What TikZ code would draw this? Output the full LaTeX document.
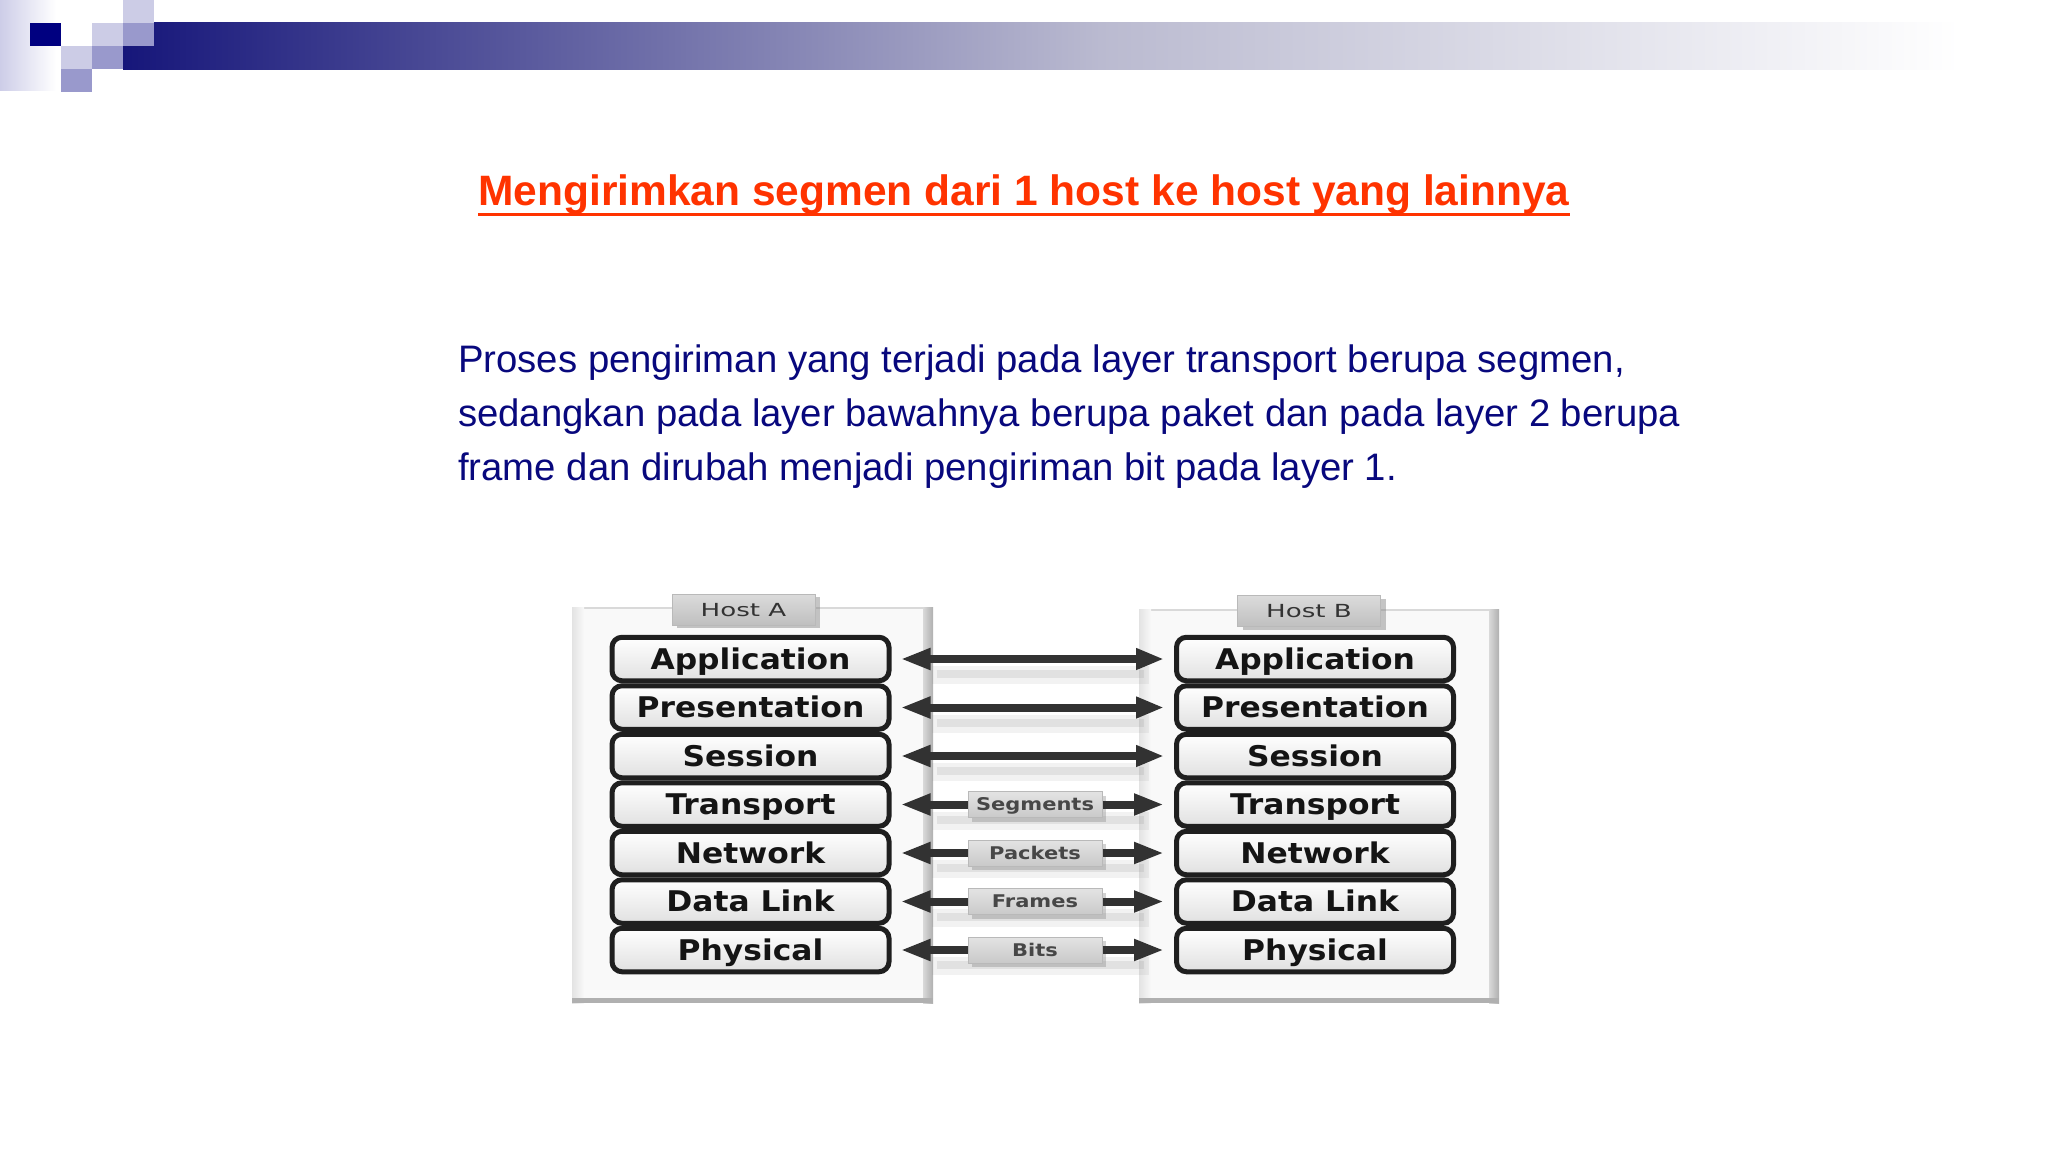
\documentclass[tikz,border=0pt]{standalone}
\usepackage{fontspec}
\setmainfont{Liberation Sans}
\newfontfamily\layerfont[FakeStretch=1.1]{DejaVu Sans}
\newfontfamily\lblfont[FakeStretch=1.2]{DejaVu Sans}
\newfontfamily\tabfont[FakeStretch=1.45]{DejaVu Sans}
\usetikzlibrary{arrows.meta,shadows}
\definecolor{navysq}{RGB}{0,0,128}
\definecolor{barnavy}{RGB}{22,22,122}
\definecolor{barmid}{RGB}{186,186,208}
\definecolor{lightsq}{RGB}{204,204,230}
\definecolor{medsq}{RGB}{153,153,204}
\definecolor{lavfade}{RGB}{205,205,232}
\definecolor{titlered}{RGB}{255,51,0}
\definecolor{bodynavy}{RGB}{8,8,125}
\definecolor{shaftgray}{RGB}{50,50,50}
\tikzset{
  bodytext/.style={anchor=base west, inner sep=0pt, text=bodynavy, font=\fontsize{38.3}{46}\selectfont},
  panel/.style={fill=gray!5, draw=gray!30, line width=2pt, inner sep=0pt},
  tabbox/.style={top color=gray!28, bottom color=gray!50, draw=gray!55, line width=1pt,
     minimum width=143pt, minimum height=31pt, inner sep=0pt, text height=13pt, text depth=0pt,
     drop shadow={opacity=0.45, shadow xshift=5pt, shadow yshift=-3pt},
     font=\tabfont\fontsize{18}{18}\selectfont, text=black!80},
  layerbox/.style={draw=black!88, line width=5pt, rounded corners=10pt,
     top color=white, middle color=white, bottom color=gray!24,
     minimum width=277pt, minimum height=43.5pt, inner sep=0pt, text height=20.8pt, text depth=0pt,
     font=\layerfont\bfseries\fontsize{28.5}{28.5}\selectfont, text=black!92},
  lblbox/.style={top color=gray!22, bottom color=gray!42, draw=gray!55, line width=1pt,
     minimum width=134pt, minimum height=26pt, inner sep=0pt, text height=12.8pt, text depth=0pt,
     drop shadow={opacity=0.35, shadow xshift=4pt, shadow yshift=-4pt},
     font=\lblfont\bfseries\fontsize{17.5}{17.5}\selectfont, text=black!72},
  shaft/.style={draw=shaftgray, line width=8pt},
  tipL/.style={-{Triangle[length=30pt,width=20pt]}},
  tipBoth/.style={{Triangle[length=30pt,width=20pt]}-{Triangle[length=28pt,width=20pt]}},
  arrshadowA/.style={draw=gray, opacity=0.10, line width=18pt},
  arrshadowB/.style={draw=gray, opacity=0.14, line width=8pt}
}
\begin{document}
\begin{tikzpicture}[x=1pt,y=-1pt]
\useasboundingbox (0,0) rectangle (2048,1152);
\fill[white] (0,0) rectangle (2048,1152);

% --- top decoration ---
\shade[left color=lavfade, right color=white] (0,0) rectangle (56,90);
\shade[left color=barnavy, right color=barmid] (123,22) rectangle (1100,69);
\shade[left color=barmid, right color=white] (1099,22) rectangle (1960,69);
\fill[navysq] (30,23) rectangle (61,46);
\fill[lightsq] (61,46) rectangle (92,69);
\fill[medsq] (61,69) rectangle (92,92);
\fill[lightsq] (92,23) rectangle (123,46);
\fill[medsq] (92,46) rectangle (123,69);
\fill[lightsq] (123,0) rectangle (154,23);
\fill[medsq] (123,23) rectangle (154,46);

% --- title ---
\node[anchor=base, inner sep=0pt, text=titlered, font=\fontsize{42.5}{50}\selectfont\bfseries]
  (title) at (1024,205) {Mengirimkan segmen dari 1 host ke host yang lainnya};
\draw[titlered, line width=3pt] ([yshift=-9pt]title.base west) -- ([yshift=-9pt]title.base east);

% --- paragraph ---
\node[bodytext] (p1) at (458,372) {Proses pengiriman yang terjadi pada layer transport berupa segmen,};
\node[bodytext] (p2) at (458,426) {sedangkan pada layer bawahnya berupa paket dan pada layer 2 berupa};
\node[bodytext] (p3) at (458,480) {frame dan dirubah menjadi pengiriman bit pada layer 1.};

% --- panels ---
\node[panel, minimum width=359pt, minimum height=394pt] (pa) at (752.5,805) {};
\shade[left color=gray!22, right color=gray!5] (pa.north west) rectangle ([xshift=12pt]pa.south west);
\shade[left color=gray!30, right color=gray!62] ([xshift=-10pt]pa.north east) rectangle (pa.south east);
\fill[gray!62] ([yshift=5pt]pa.south west) rectangle (pa.south east);

\node[panel, minimum width=358pt, minimum height=392pt] (pb) at (1319,806) {};
\shade[left color=gray!22, right color=gray!5] (pb.north west) rectangle ([xshift=12pt]pb.south west);
\shade[left color=gray!30, right color=gray!62] ([xshift=-10pt]pb.north east) rectangle (pb.south east);
\fill[gray!62] ([yshift=5pt]pb.south west) rectangle (pb.south east);

% --- tabs ---
\node[tabbox] (ta) at (743.5,609.5) {Host A};
\node[tabbox] (tb) at (1309,611) {Host B};

% --- layers ---
\foreach \t [count=\i] in {Application,Presentation,Session,Transport,Network,Data Link,Physical}{
  \node[layerbox] (a\i) at (750.5,{659+48.5*(\i-1)}) {\t};
  \node[layerbox] (b\i) at (1315,{659+48.5*(\i-1)}) {\t};
}

% --- arrow shadows ---
\foreach \i in {1,...,7}{
  \draw[arrshadowA, shorten <=40pt, shorten >=25pt] ([yshift=-16pt]a\i.east) -- ([yshift=-16pt]b\i.west);
  \draw[arrshadowB, shorten <=45pt, shorten >=30pt] ([yshift=-15pt]a\i.east) -- ([yshift=-15pt]b\i.west);
}

% --- upper arrows ---
\foreach \i in {1,2,3}{
  \draw[shaft, tipBoth, shorten <=9pt, shorten >=10pt] (a\i) -- (b\i);
}

% --- lower arrows with labels ---
\foreach \t/\i in {Segments/4,Packets/5,Frames/6,Bits/7}{
  \node[lblbox] (l\i) at (1035,{659+48.5*(\i-1)}) {\t};
  \draw[shaft, tipL, shorten >=9pt] (l\i) -- (a\i);
  \draw[shaft, tipL, shorten >=10pt] (l\i) -- (b\i);
}
\end{tikzpicture}
\end{document}
